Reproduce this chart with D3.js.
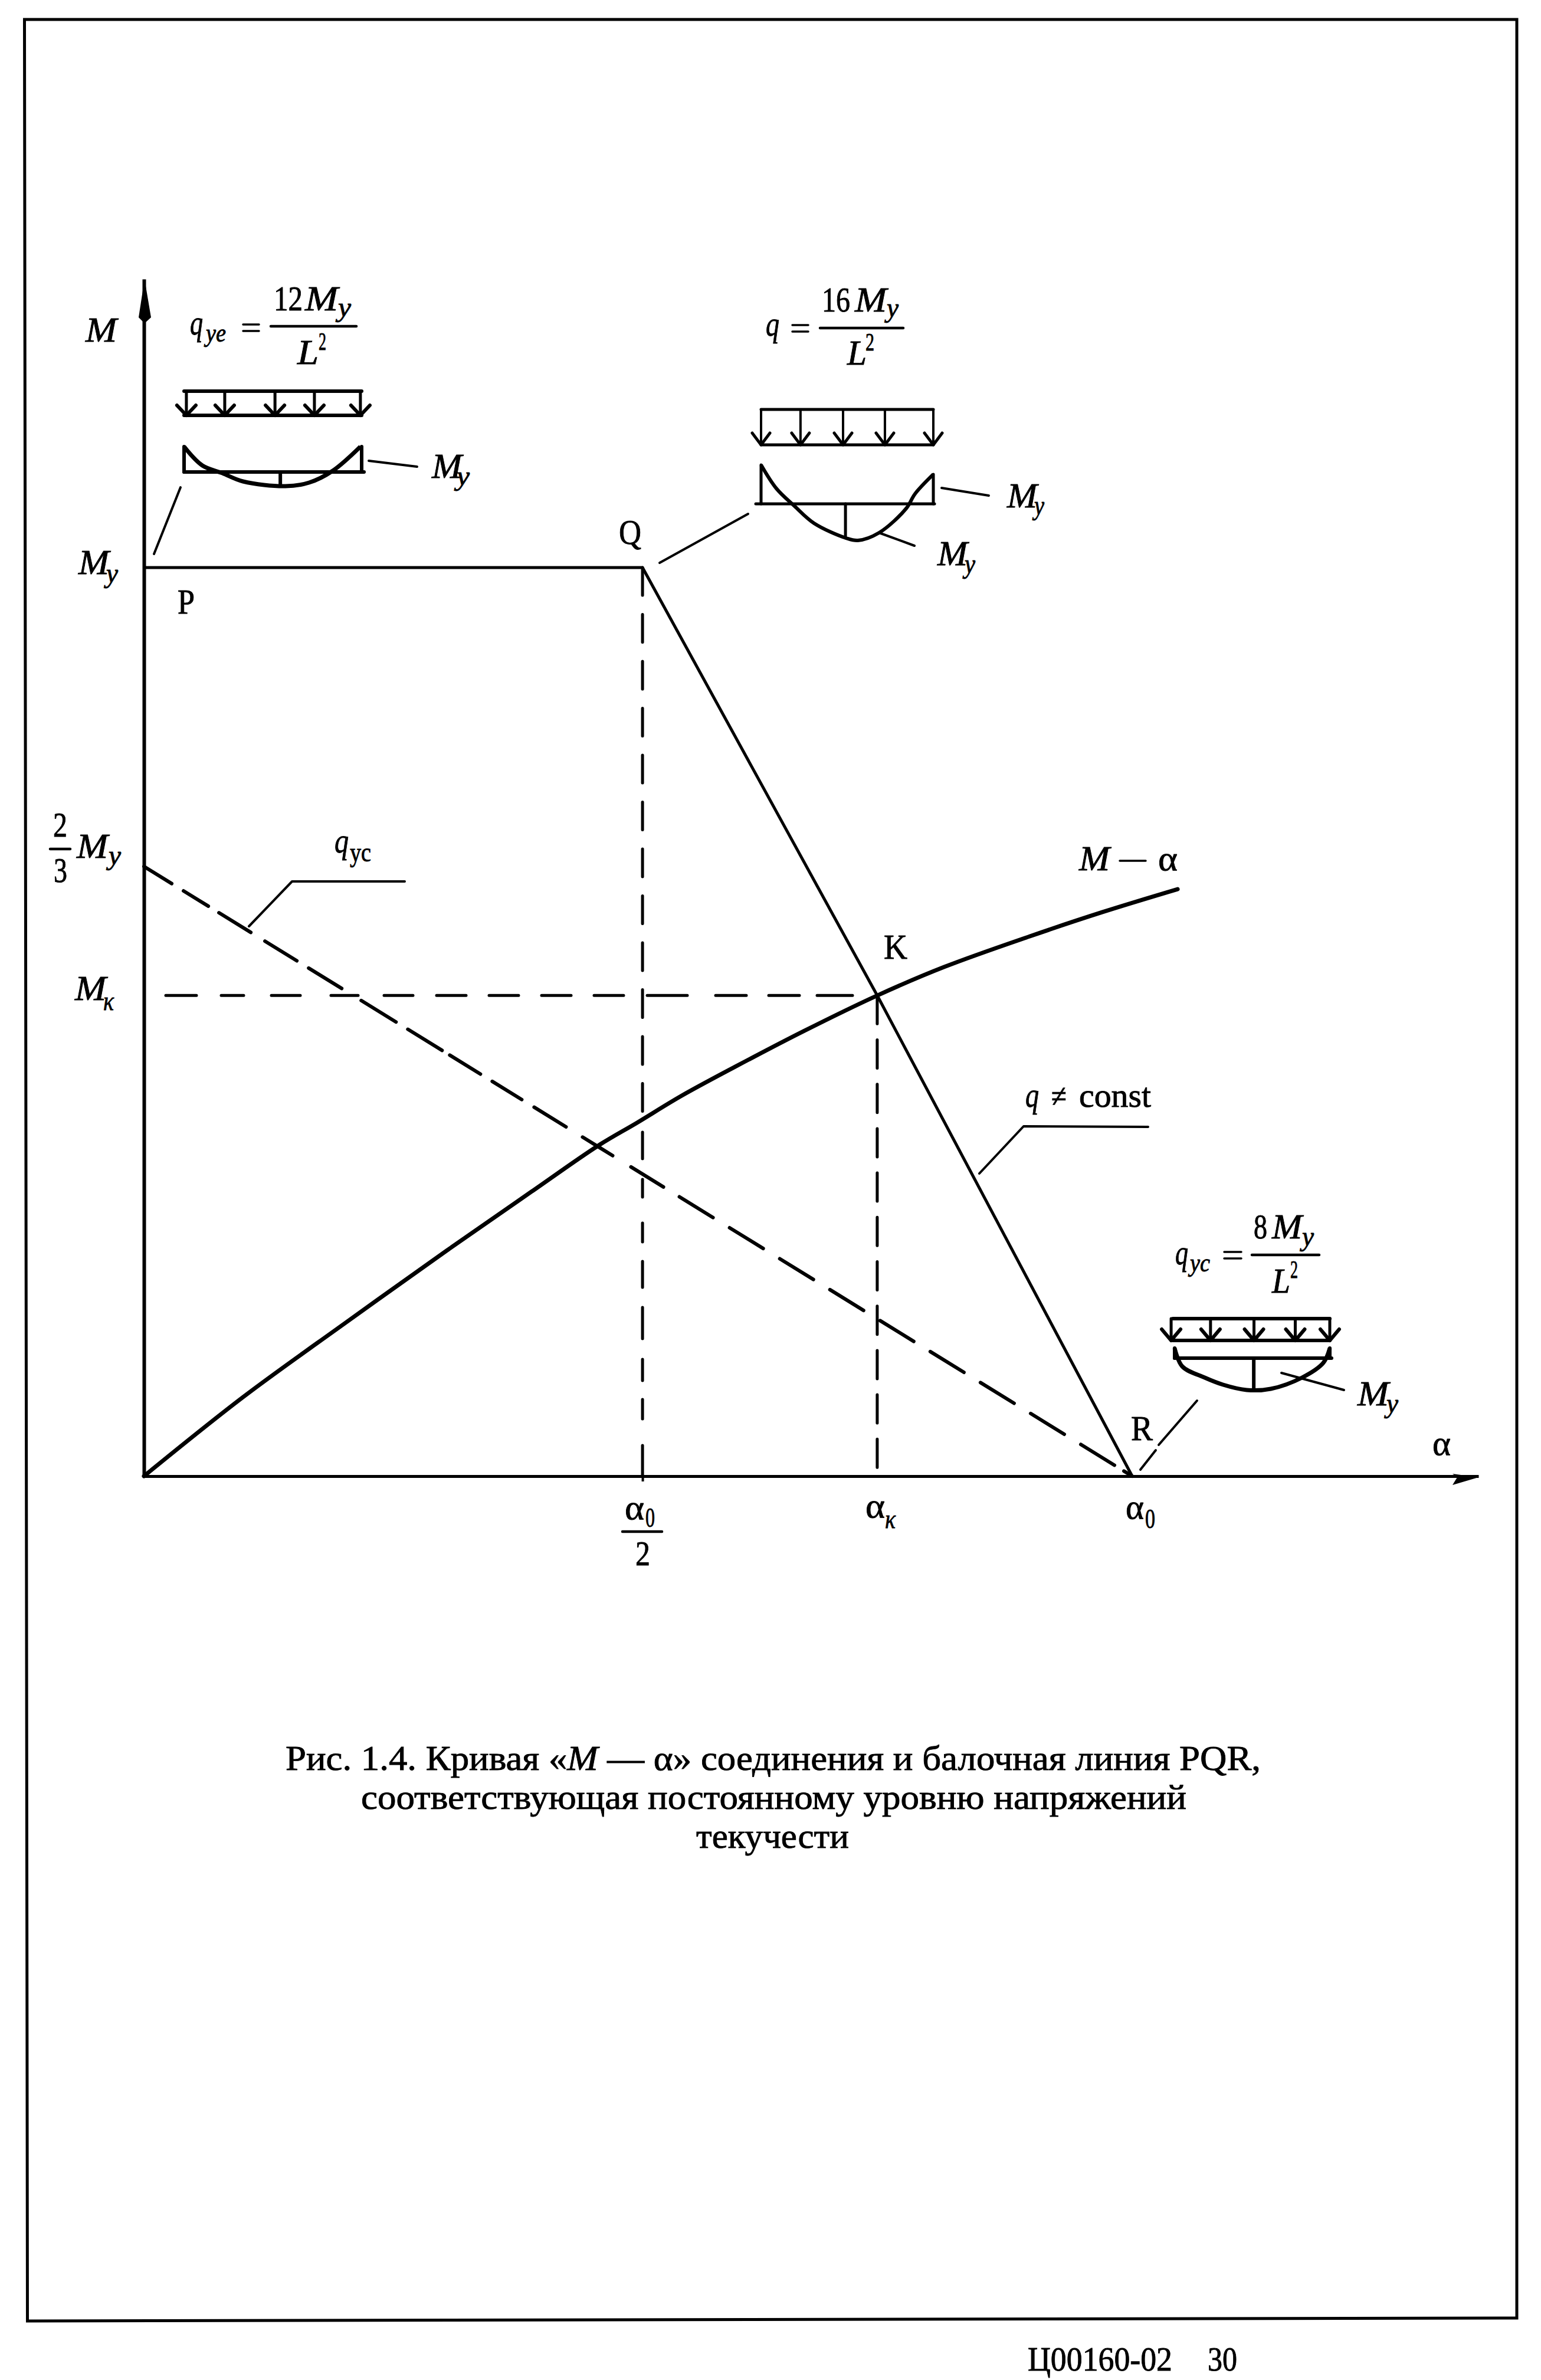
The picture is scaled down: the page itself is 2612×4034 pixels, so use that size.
<!DOCTYPE html>
<html><head><meta charset="utf-8">
<script src="https://cdn.jsdelivr.net/npm/d3@7"></script>
<style>html,body{margin:0;padding:0;background:#fff}svg{display:block}text{font-family:"Liberation Serif",serif;fill:#000;stroke:#000;stroke-width:.9px}</style>
</head><body><script>
// ---- values (alpha / alpha0, M / My) ----
const curveAlpha = [0, .1003, .203, .306, .392, .460, .499, .543, .599, .668, .742, .810, .896, .970, 1.046];
const curveM     = [0, .087, .168, .248, .313, .364, .389, .418, .451, .490, .529, .5605, .594, .6208, .646];
const beamLineAlpha = [0, .5045, .742, 1];
const beamLineM     = [1, 1, .529, 0];
const elasticAlpha = [0, 1];
const elasticM     = [.671, 0];
const alphaKnee = .5045, alphaK = .742, alphaEnd = 1, momentK = .529;
const xTickLabels = ["α", "α", "α"];
const xTickSubs   = ["0", "κ", "0"];
const caption = ["Рис. 1.4. Кривая «", "M", " — α» соединения и балочная линия PQR,"];
const captionRest = ["соответствующая постоянному уровню напряжений", "текучести"];
// moment diagrams: position along span, moment in units of end moment
const beam1U = [0, .103, .216, .332, .571, .704, .837, .993];
const beam1M = [1, .256, -.047, -.372, -.558, -.419, .047, 1];
const beam2U = [0, .089, .195, .308, .493, .562, .685, .842, .894, 1];
const beam2M = [1, .394, -.061, -.5, -.879, -.939, -.742, -.121, .258, .758];
const beam3U = [0, .049, .194, .312, .464, .62, .821, .958, 1];
const beam3M = [.895, -.737, -1.737, -2.368, -2.842, -2.737, -1.737, -.421, .895];
const beam1Arrows = [.013, .229, .512, .734, .993];
const beam2Arrows = [0, .229, .476, .719, 1];
const beam3Arrows = [-.011, .24, .517, .78, 1];

const svg = d3.select("body").append("svg").attr("width", 2612).attr("height", 4034);
svg.append("rect").attr("width", 2612).attr("height", 4034).attr("fill", "#fff");
const x = d3.scaleLinear().domain([0, 1.3504]).range([244, 2506]);
const y = d3.scaleLinear().domain([0, 1.3175]).range([2502, 473]);
const line = d3.line().x(d => x(d[0])).y(d => y(d[1]));
const seg = (g, pts, w, extra) => {
  const p = g.append("path").attr("d", d3.line()(pts)).attr("fill", "none")
    .attr("stroke", "#000").attr("stroke-width", w).attr("stroke-linecap", "round").attr("stroke-linejoin", "round");
  if (extra) p.attr("stroke-dasharray", extra);
  return p;
};
// hand-drawn, uneven dash rhythm: list of [from,to] along one coordinate
const dashes = (pairs, start, k) => {
  const out = []; let pos = start;
  pairs.forEach(([a, b]) => { if (out.length) out.push((a - pos) * k); out.push((b - a) * k); pos = b; });
  out.push(5000);
  return out.join(" ");
};
const g = svg.append("g");

// page frame (the scan is slightly skewed)
g.append("path").attr("d", d3.line()([[41.5,33],[2571,33],[2571,3929],[46.5,3934]]) + "Z")
  .attr("fill", "none").attr("stroke", "#000").attr("stroke-width", 5);

// axes
const axX = g.append("g").attr("transform", `translate(0,${y(0)})`)
  .call(d3.axisBottom(x).tickValues([alphaKnee]).tickSize(9).tickSizeOuter(0).tickFormat(""));
const axY = g.append("g").attr("transform", `translate(${x(0)},0)`)
  .call(d3.axisLeft(y).tickValues([]).tickSize(0));
axX.select(".domain").attr("stroke-width", 5).attr("stroke", "#000");
axX.selectAll("line").attr("stroke-width", 4).attr("stroke", "#000");
axY.select(".domain").attr("stroke-width", 6).attr("stroke", "#000");
// arrow heads
g.append("path").attr("d", d3.line()([[x(0)+1, y(1.3175)], [x(0)+12, y(1.3175)+65], [x(0)+1, y(1.3175)+75], [x(0)-9, y(1.3175)+65]])+"Z").attr("fill", "#000");
g.append("path").attr("d", d3.line()([[x(1.3504), y(0)+2], [x(1.3504)-44, y(0)+15], [x(1.3504)-36, y(0)+2], [x(1.3504)-44, y(0)-4]])+"Z").attr("fill", "#000");

// curves
g.append("path").datum(d3.zip(curveAlpha, curveM))
  .attr("d", line.curve(d3.curveCatmullRom)).attr("fill", "none").attr("stroke", "#000")
  .attr("stroke-width", 7).attr("stroke-linecap", "round");
g.append("path").datum(d3.zip(beamLineAlpha, beamLineM))
  .attr("d", line.curve(d3.curveLinear)).attr("fill", "none").attr("stroke", "#000")
  .attr("stroke-width", 5).attr("stroke-linejoin", "round");
// dashed line of the elastic beam
const elasticDash = [[245,292],[312,354],[372,426],[450,504],[524,580],[613,672],[692,750],[763,815],[835,885],[906,960],[988,1039],[1070,1125],
  [1152,1209],[1237,1294],[1322,1379],[1407,1464],[1492,1549],[1577,1634],[1662,1719],[1747,1804],[1832,1889],[1905,1919]];
g.append("path").datum(d3.zip(elasticAlpha, elasticM))
  .attr("d", line.curve(d3.curveLinear)).attr("fill", "none").attr("stroke", "#000")
  .attr("stroke-width", 6).attr("stroke-linecap", "round")
  .attr("stroke-dasharray", dashes(elasticDash, 245, 1.1757));
// drop lines
const kneeDash = [];
for (let k = 0; k < 12; k++) kneeDash.push([962 + 79.5 * k, 962 + 79.5 * k + 47]);
kneeDash.push([1919,1964],[1999,2029],[2073,2105],[2138,2182],[2216,2269],[2304,2340],[2372,2405],[2450,2502]);
seg(g, [[x(alphaKnee), y(1)], [x(alphaKnee), y(0)]], 5, dashes(kneeDash, 962, 1));
seg(g, [[x(alphaK), y(momentK)], [x(alphaK), y(0)]], 5, "48 27.2");
const momentDash = [[281,333],[375,413],[460,509],[561,607],[651,700],[740,790],[829,879],[918,968],[1007,1057],[1097,1165],[1213,1265],[1303,1355],[1385,1445]];
seg(g, [[281, y(momentK)], [1445, y(momentK)]], 5, dashes(momentDash, 281, 1));

// text helper: fits the string between two x positions
function T(s, x0, x1, base, size, it) {
  const t = g.append("text").attr("x", x0).attr("y", base).attr("font-size", size).text(s);
  if (it) t.attr("font-style", "italic");
  if (x1) t.attr("textLength", x1 - x0).attr("lengthAdjust", "spacingAndGlyphs");
  return t;
}
function My(x0, x1, base, x2, x3, base2) { T("M", x0, x1, base, 60, true); T("y", x2, x3, base2, 46, true); }

// beam glyphs
function beam(o) {
  const gb = g.append("g");
  const lx = d3.scaleLinear().domain([0, 1]).range(o.load);
  const mx = d3.scaleLinear().domain([0, 1]).range(o.span);
  const my = d3.scaleLinear().domain([0, 1]).range([o.base, o.base - o.unit]);
  const w = o.w;
  seg(gb, [[lx(0), o.top], [lx(1), o.top]], w);
  seg(gb, [[lx(0), o.bot], [lx(1), o.bot]], w);
  o.arrows.forEach(u => {
    const a = lx(u);
    seg(gb, [[a, o.top], [a, o.bot]], w - 1);
    seg(gb, [[a - o.wx, o.bot - o.wy], [a, o.bot], [a + o.wx, o.bot - o.wy]], w);
  });
  seg(gb, [[o.base0, o.base], [o.base1, o.base]], w);
  const pts = d3.zip(o.u, o.m);
  gb.append("path").datum(pts)
    .attr("d", d3.line().x(d => mx(d[0])).y(d => my(d[1])).curve(d3.curveCatmullRom))
    .attr("fill", "none").attr("stroke", "#000").attr("stroke-width", w + 1);
  seg(gb, [[mx(0), my(o.m[0])], [mx(0), o.base]], w);
  seg(gb, [[mx(1), my(o.m[o.m.length - 1])], [mx(1), o.base]], w);
  seg(gb, [[mx(o.stemU), o.base], [mx(o.stemU), my(o.stemM)]], w);
}
beam({load:[312,613], top:663, bot:704, arrows:beam1Arrows, wx:16, wy:17, span:[312,613], base:800, unit:43, base0:312, base1:617, u:beam1U, m:beam1M, stemU:.542, stemM:-.558, w:6});
beam({load:[1290,1582], top:694, bot:754, arrows:beam2Arrows, wx:15, wy:20, span:[1290,1582], base:854, unit:66, base0:1281, base1:1584, u:beam2U, m:beam2M, stemU:.49, stemM:-.879, w:5});
beam({load:[1988,2254], top:2235, bot:2272, arrows:beam3Arrows, wx:16, wy:19, span:[1991,2254], base:2302, unit:19, base0:1991, base1:2257, u:beam3U, m:beam3M, stemU:.51, stemM:-2.842, w:6});

// leaders
[
 [[625,781],[707,791]], [[306,826],[261,939]],
 [[1596,827],[1676,840]], [[1490,903],[1550,925]], [[1268,871],[1118,954]],
 [[2172,2327],[2278,2356]], [[2029,2374],[1964,2449]], [[1959,2458],[1933,2491]],
 [[422,1570],[495,1494],[686,1494]], [[1660,1989],[1735,1909],[1946,1910]]
].forEach(p => seg(g, p, 4));

// fraction bars & equals
[[459,604,553],[1390,1531,556],[2122,2236,2127],[1055,1122,2596],[85,119,1439]].forEach(r => seg(g, [[r[0],r[2]],[r[1],r[2]]], 4.5));
[[412,439,555],[1343,1370,556],[2075,2104,2127]].forEach(r => { seg(g, [[r[0],r[2]-5],[r[1],r[2]-5]], 3.5); seg(g, [[r[0],r[2]+6],[r[1],r[2]+6]], 3.5); });

// labels: axis
T("M", 145, 198, 579, 60, true);
My(133, 185, 973, 180, 200, 987);
T("P", 301, 330, 1040, 60);
T("Q", 1049, 1087, 922, 60);
T("K", 1498, 1538, 1625, 60);
T("R", 1917, 1954, 2441, 60);
T("2", 90, 114, 1418, 60); T("3", 91, 114, 1495, 60);
My(130, 183, 1454, 184, 205, 1465);
T("M", 127, 180, 1695, 60, true); T("κ", 175, 193, 1712, 46, true);
T("q", 567, 591, 1445, 60, true); T("yc", 593, 629, 1460, 46);
T("M", 1829, 1881, 1475, 60, true); seg(g, [[1898,1459],[1942,1459]], 3.5); T("α", 1963, 1996, 1475, 60);
T("q", 1738, 1761, 1876, 60, true); T("≠", 1782, 1808, 1876, 54); T("const", 1829, 1951, 1876, 58);
T("α", 2428, 2459, 2466, 60);
// x tick labels
T(xTickLabels[0], 1059, 1092, 2575, 60); T(xTickSubs[0], 1094, 1110, 2588, 46); T("2", 1077, 1102, 2653, 60);
T(xTickLabels[1], 1467, 1500, 2572, 60); T(xTickSubs[1], 1500, 1518, 2590, 46, true);
T(xTickLabels[2], 1908, 1939, 2574, 60); T(xTickSubs[2], 1941, 1958, 2590, 46);
// formula 1
T("q", 322, 344, 567, 60, true); T("ye", 349, 383, 579, 44, true);
T("12", 464, 513, 526, 60); T("M", 517, 573, 526, 60, true); T("y", 573, 595, 536, 46, true);
T("L", 504, 540, 617, 60, true); T("2", 540, 553, 593, 42);
My(732, 783, 810, 774, 796, 822);
// formula 2
T("q", 1298, 1321, 569, 60, true);
T("16", 1393, 1441, 528, 60); T("M", 1449, 1503, 528, 60, true); T("y", 1503, 1523, 537, 46, true);
T("L", 1436, 1469, 618, 60, true); T("2", 1467, 1482, 594, 42);
My(1707, 1758, 860, 1753, 1770, 872);
My(1589, 1640, 958, 1635, 1653, 971);
// formula 3
T("q", 1992, 2014, 2143, 60, true); T("yc", 2017, 2051, 2155, 44, true);
T("8", 2125, 2148, 2099, 60); T("M", 2156, 2207, 2099, 60, true); T("y", 2207, 2227, 2111, 46, true);
T("L", 2156, 2187, 2191, 60, true); T("2", 2187, 2200, 2166, 42);
My(2301, 2354, 2382, 2350, 2370, 2394);

// caption
const c1 = T("", 484, 2137, 3000, 60);
c1.append("tspan").text(caption[0]);
c1.append("tspan").attr("font-style", "italic").text(caption[1]);
c1.append("tspan").text(caption[2]);
T(captionRest[0], 612, 2011, 3066, 60);
T(captionRest[1], 1180, 1439, 3132, 60);
// footer
T("Ц00160-02", 1742, 1987, 4018, 58);
T("30", 2047, 2097, 4018, 58);
</script></body></html>
